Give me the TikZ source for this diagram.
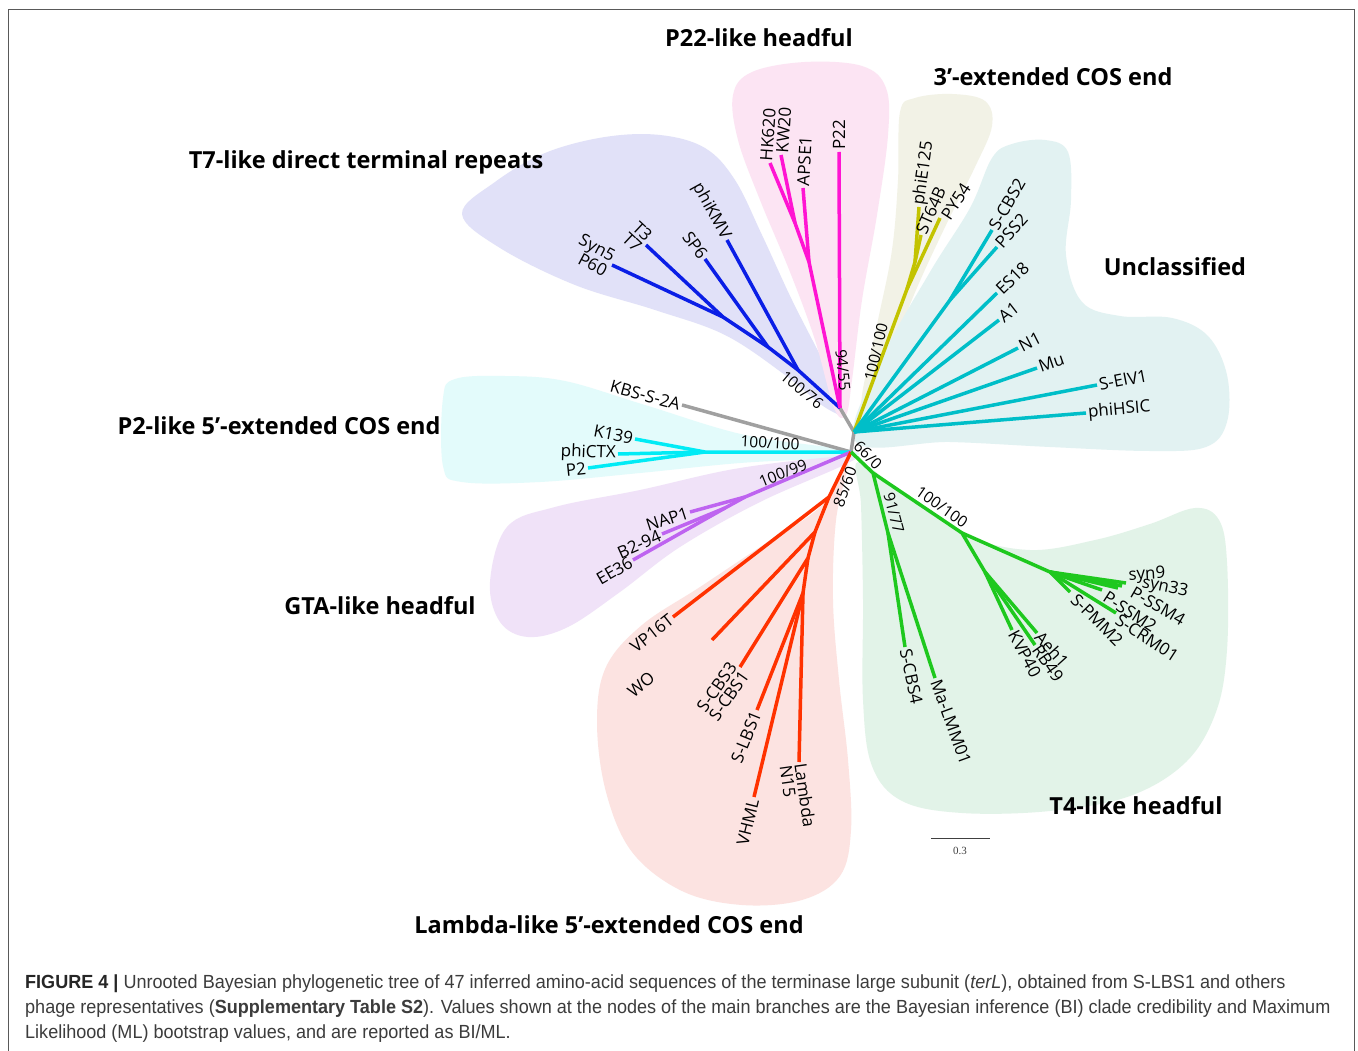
\documentclass[tikz,border=0pt]{standalone}
\usepackage{fontspec}
\setmainfont{Open Sans}
\newfontfamily\capfont[FakeStretch=0.95]{Liberation Sans}
\newfontfamily\scfont{Liberation Serif}
\definecolor{regT7}{RGB}{225,225,248}
\definecolor{regP22}{RGB}{252,228,243}
\definecolor{regCOS3}{RGB}{242,242,230}
\definecolor{regUnc}{RGB}{226,242,242}
\definecolor{regP2}{RGB}{227,251,251}
\definecolor{regGTA}{RGB}{240,226,248}
\definecolor{regLam}{RGB}{252,227,225}
\definecolor{regT4}{RGB}{226,243,232}
\definecolor{cBlue}{RGB}{10,30,230}
\definecolor{cMag}{RGB}{255,20,210}
\definecolor{cOlive}{RGB}{195,195,0}
\definecolor{cTeal}{RGB}{0,190,200}
\definecolor{cCyan}{RGB}{0,235,245}
\definecolor{cGray}{RGB}{160,160,160}
\definecolor{cPurp}{RGB}{190,100,240}
\definecolor{cRed}{RGB}{255,50,0}
\definecolor{cGreen}{RGB}{30,200,30}
\definecolor{capgray}{RGB}{60,60,60}
\begin{document}
\begin{tikzpicture}[x=1pt,y=-1pt,
  br/.style={line width=3.5pt, line join=round},
  leaf/.style={font=\fontsize{17}{15}\selectfont, inner sep=2pt},
  boot/.style={font=\fontsize{15.5}{15.5}\selectfont, inner sep=1pt},
  ttl/.style={font=\fontsize{23.5}{28}\selectfont\bfseries, anchor=base},
  capl/.style={font=\capfont\fontsize{19}{20}\selectfont, anchor=base west, inner sep=0pt, text=capgray},
]
\useasboundingbox (0,0) rectangle (1358,1051);
\clip (0,0) rectangle (1358,1051);
\fill[white] (0,0) rectangle (1358,1051);
\draw[line width=1.5pt, black!65] (8.5,9.5) rectangle (1354.5,1070);

% ---------- background regions ----------
\fill[regT7] plot[smooth cycle, tension=0.6] coordinates {(462,214) (495,182) (545,153) (605,137) (660,135) (705,148) (735,180) (762,235) (792,300) (825,365) (846,412) (826,408) (785,375) (725,335) (655,310) (575,285) (500,248)};
\fill[regP22] plot[smooth cycle, tension=0.6] coordinates {(733,95) (752,72) (805,62) (862,66) (886,88) (888,135) (877,215) (862,300) (852,380) (846,415) (834,408) (815,340) (790,272) (760,200) (738,140)};
\fill[regCOS3] plot[smooth cycle, tension=0.6] coordinates {(900,112) (915,98) (952,94) (985,101) (992,126) (975,167) (946,225) (916,290) (886,365) (866,412) (862,395) (878,320) (892,250) (898,180)};
\fill[regUnc] plot[smooth cycle, tension=0.6] coordinates {(856,442) (880,362) (930,272) (970,208) (992,158) (1012,144) (1045,140) (1068,152) (1071,200) (1066,255) (1082,302) (1120,316) (1172,318) (1208,336) (1227,375) (1227,422) (1206,447) (1150,451) (1050,447) (950,442)};
\fill[regP2] plot[smooth cycle, tension=0.6] coordinates {(443,398) (455,379) (505,376) (565,381) (645,405) (745,435) (848,450) (845,457) (740,463) (640,473) (540,482) (462,482) (443,466)};
\fill[regGTA] plot[smooth cycle, tension=0.6] coordinates {(490,582) (507,527) (555,507) (640,490) (740,468) (848,456) (846,464) (760,502) (680,547) (620,592) (568,627) (528,637) (500,622)};
\fill[regLam] plot[smooth cycle, tension=0.6] coordinates {(848,462) (820,507) (760,547) (700,587) (642,625) (606,667) (597,722) (606,792) (632,852) (682,891) (742,905) (802,900) (840,876) (851,830) (848,760) (839,680) (833,600) (836,520)};
\fill[regT4] plot[smooth cycle, tension=0.6] coordinates {(858,462) (905,495) (965,535) (1030,550) (1095,540) (1150,524) (1195,508) (1219,520) (1227,562) (1227,650) (1216,712) (1186,762) (1130,796) (1050,811) (962,813) (902,801) (872,766) (863,700) (863,600) (861,505)};

% ---------- internal nodes and leaves ----------
\coordinate (C0) at (851,452);
\coordinate (C1) at (854,432);
\coordinate (C2) at (840,408);
\coordinate (kbs) at (682,405);
% blue
\coordinate (b1) at (798,370); \coordinate (b2) at (768,347); \coordinate (b3) at (723,317);
\coordinate (lphikmv) at (727,240); \coordinate (lsp6) at (705,259);
\coordinate (lt3) at (646,245); \coordinate (lp60) at (612,265);
% magenta
\coordinate (m1) at (809,262); \coordinate (m2) at (795,223);
\coordinate (lhk) at (770,163); \coordinate (lkw) at (781,155);
\coordinate (lapse) at (803,188); \coordinate (lp22) at (839,152);
% olive
\coordinate (o1) at (907,289); \coordinate (o2) at (915,262);
\coordinate (lphie) at (919,207); \coordinate (lst) at (921,235); \coordinate (lpy) at (940,218);
% teal
\coordinate (t1) at (950,300);
\coordinate (lscbs2) at (992,230); \coordinate (lpss2) at (997,247);
\coordinate (les18) at (997,293); \coordinate (la1) at (999,320);
\coordinate (ln1) at (1018,348); \coordinate (lmu) at (1037,368);
\coordinate (lseiv) at (1097,385); \coordinate (lphih) at (1086,413);
% cyan
\coordinate (cy1) at (705,452);
\coordinate (lk139) at (635,439); \coordinate (lphictx) at (618,454); \coordinate (lp2) at (588,468);
% purple
\coordinate (p1) at (745,497); \coordinate (p2) at (725,508);
\coordinate (lnap) at (690,512); \coordinate (lb294) at (662,534); \coordinate (lee36) at (633,560);
% red
\coordinate (r1) at (829,497); \coordinate (r2) at (815,532); \coordinate (r3) at (808,558); \coordinate (r4) at (803,593);
\coordinate (lvp) at (673,617); \coordinate (lwo) at (712,640); \coordinate (lscbs) at (740,667);
\coordinate (lslbs) at (757,710); \coordinate (lvhml) at (754,797); \coordinate (llam) at (799,762);
% green
\coordinate (g1) at (873,473); \coordinate (g2) at (888,533); \coordinate (g3) at (962,533);
\coordinate (g4) at (985,572); \coordinate (g5) at (1050,572);
\coordinate (lscbs4) at (905,647); \coordinate (lma) at (935,678);
\coordinate (lkvp) at (1012,630); \coordinate (lrb) at (1035,645); \coordinate (laeh) at (1037,633);
\coordinate (lspmm) at (1070,592); \coordinate (lpssm2) at (1102,590); \coordinate (lscrm) at (1116,613);
\coordinate (lpssm4) at (1118,588); \coordinate (lsyn33) at (1122,586); \coordinate (lsyn9) at (1126,583);

% ---------- branches ----------
\draw[br, cGray] (C0) -- (C1) -- (C2);
\draw[br, cGray] (C0) -- (kbs);
\draw[br, cOlive] (C1) -- (o1) -- (o2) -- (lphie);
\draw[br, cOlive] (o2) -- (lst);
\draw[br, cOlive] (o1) -- (lpy);
\draw[br, cBlue] (C2) -- (b1) -- (lphikmv);
\draw[br, cBlue] (b1) -- (b2) -- (lsp6);
\draw[br, cBlue] (b2) -- (b3) -- (lt3);
\draw[br, cBlue] (b3) -- (lp60);
\draw[br, cMag] (C2) -- (m1) -- (m2) -- (lhk);
\draw[br, cMag] (m2) -- (lkw);
\draw[br, cMag] (m1) -- (lapse);
\draw[br, cMag] (C2) -- (lp22);
\draw[br, cTeal] (C1) -- (t1) -- (lscbs2);
\draw[br, cTeal] (t1) -- (lpss2);
\draw[br, cTeal] (C1) -- (les18);
\draw[br, cTeal] (C1) -- (la1);
\draw[br, cTeal] (C1) -- (ln1);
\draw[br, cTeal] (C1) -- (lmu);
\draw[br, cTeal] (C1) -- (lseiv);
\draw[br, cTeal] (C1) -- (lphih);
\draw[br, cCyan] (C0) -- (cy1) -- (lk139);
\draw[br, cCyan] (cy1) -- (lphictx);
\draw[br, cCyan] (cy1) -- (lp2);
\draw[br, cPurp] (C0) -- (p1) -- (lnap);
\draw[br, cPurp] (p1) -- (p2) -- (lb294);
\draw[br, cPurp] (p2) -- (lee36);
\draw[br, cRed] (C0) -- (r1) -- (lvp);
\draw[br, cRed] (r1) -- (r2) -- (lwo);
\draw[br, cRed] (r2) -- (r3) -- (lscbs);
\draw[br, cRed] (r3) -- (r4) -- (lslbs);
\draw[br, cRed] (r4) -- (lvhml);
\draw[br, cRed] (r4) -- (llam);
\draw[br, cGreen] (C0) -- (g1) -- (g2) -- (lscbs4);
\draw[br, cGreen] (g2) -- (lma);
\draw[br, cGreen] (g1) -- (g3) -- (g4) -- (lkvp);
\draw[br, cGreen] (g4) -- (lrb);
\draw[br, cGreen] (g4) -- (laeh);
\draw[br, cGreen] (g3) -- (g5) -- (lspmm);
\draw[br, cGreen] (g5) -- (lpssm2);
\draw[br, cGreen] (g5) -- (lscrm);
\draw[br, cGreen] (g5) -- (lpssm4);
\draw[br, cGreen] (g5) -- (lsyn33);
\draw[br, cGreen] (g5) -- (lsyn9);

% ---------- leaf labels ----------
\node[leaf, anchor=east, rotate=-15] (nkbs) at (kbs) {KBS-S-2A};
\node[leaf, anchor=east, rotate=-61] (nphikmv) at (lphikmv) {phiKMV};
\node[leaf, anchor=east, rotate=-54] (nsp6) at (lsp6) {SP6};
\node[leaf, anchor=east, rotate=-43, align=right] (nt3) at (lt3) {T3\\T7};
\node[leaf, anchor=east, rotate=-28, align=right] (np60) at (lp60) {Syn5\\P60};
\node[leaf, anchor=west, rotate=86] (nhk) at ([xshift=-4pt]lhk) {HK620};
\node[leaf, anchor=west, rotate=86] (nkw) at ([xshift=1pt]lkw) {KW20};
\node[leaf, anchor=west, rotate=87] (napse) at (lapse) {APSE1};
\node[leaf, anchor=west, rotate=90] (np22) at (lp22) {P22};
\node[leaf, anchor=west, rotate=82] (nphie) at (lphie) {phiE125};
\node[leaf, anchor=west, rotate=66] (nst) at ([xshift=-1pt]lst) {ST64B};
\node[leaf, anchor=west, rotate=57] (npy) at ([xshift=4pt,yshift=-2pt]lpy) {PY54};
\node[leaf, anchor=west, rotate=60] (nscbs2) at (lscbs2) {S-CBS2};
\node[leaf, anchor=west, rotate=48] (npss2) at (lpss2) {PSS2};
\node[leaf, anchor=west, rotate=44] (nes18) at (les18) {ES18};
\node[leaf, anchor=west, rotate=38] (na1) at (la1) {A1};
\node[leaf, anchor=west, rotate=27] (nn1) at (ln1) {N1};
\node[leaf, anchor=west, rotate=19] (nmu) at (lmu) {Mu};
\node[leaf, anchor=west, rotate=11] (nseiv) at (lseiv) {S-EIV1};
\node[leaf, anchor=west, rotate=5] (nphih) at (lphih) {phiHSIC};
\node[leaf, anchor=east, rotate=-11] (nk139) at (lk139) {K139};
\node[leaf, anchor=east, rotate=-2] (nphictx) at (lphictx) {phiCTX};
\node[leaf, anchor=east, rotate=6] (np2) at (lp2) {P2};
\node[leaf, anchor=east, rotate=18] (nnap) at (lnap) {NAP1};
\node[leaf, anchor=east, rotate=24] (nb294) at (lb294) {B2-94};
\node[leaf, anchor=east, rotate=30] (nee36) at (lee36) {EE36};
\node[leaf, anchor=east, rotate=38] (nvp) at (lvp) {VP16T};
\node[leaf, rotate=40] (nwo) at (641,685) {WO};
\node[leaf, anchor=east, rotate=55, align=right] (nscbs) at (lscbs) {S-CBS3\\S-CBS1};
\node[leaf, anchor=east, rotate=68] (nslbs) at (lslbs) {S-LBS1};
\node[leaf, anchor=east, rotate=76] (nvhml) at (lvhml) {VHML};
\node[leaf, anchor=west, rotate=-82, align=left] (nlam) at ([xshift=-6pt]llam) {Lambda\\N15};
\node[leaf, anchor=west, rotate=-78] (nscbs4) at (lscbs4) {S-CBS4};
\node[leaf, anchor=west, rotate=-70] (nma) at (lma) {Ma-LMM01};
\node[leaf, anchor=west, rotate=-62] (nkvp) at (lkvp) {KVP40};
\node[leaf, anchor=west, rotate=-55] (nrb) at (lrb) {RB49};
\node[leaf, anchor=west, rotate=-48] (naeh) at (laeh) {Aeh1};
\node[leaf, rotate=-45] (nspmm) at (1097,620) {S-PMM2};
\node[leaf, rotate=-33] (npssm2) at (1130,612) {P-SSM2};
\node[leaf, rotate=-33] (nscrm) at (1147,638) {S-CRM01};
\node[leaf, rotate=-30] (npssm4) at (1158,606) {P-SSM4};
\node[leaf, rotate=-12] (nsyn33) at (1165,588) {syn33};
\node[leaf, rotate=3] (nsyn9) at (1147,575) {syn9};

% ---------- support values ----------
\node[boot, rotate=-40] (s1) at (802,390) {100/76};
\node[boot, rotate=-84] (s2) at (843,370) {94/55};
\node[boot, rotate=77] (s3) at (876,352) {100/100};
\node[boot, rotate=-3] (s4) at (770,443) {100/100};
\node[boot, rotate=22] (s5) at (783,473) {100/99};
\node[boot, rotate=70] (s6) at (845,487) {85/60};
\node[boot, rotate=-45] (s7) at (868,455) {66/0};
\node[boot, rotate=-75] (s8) at (894,513) {91/77};
\node[boot, rotate=-35] (s9) at (942,507) {100/100};

% ---------- group titles ----------
\node[ttl] (tP22) at (759,47) {P22-like headful};
\node[ttl] (tCOS3) at (1053,86) {3’-extended COS end};
\node[ttl] (tT7) at (366,169) {T7-like direct terminal repeats};
\node[ttl] (tUnc) at (1175,276) {Unclassified};
\node[ttl] (tP2) at (279,434) {P2-like 5’-extended COS end};
\node[ttl] (tGTA) at (380,614) {GTA-like headful};
\node[ttl] (tT4) at (1136,814) {T4-like headful};
\node[ttl] (tLam) at (609,933) {Lambda-like 5’-extended COS end};

% ---------- scale bar ----------
\coordinate (sbl) at (931,838); \coordinate (sbr) at (990,838);
\draw[line width=1pt, black!75] (sbl) -- (sbr);
\node[font=\scfont\fontsize{11}{11}\selectfont, text=black!75, inner sep=0pt] (sbt) at (960,851) {0.3};

% ---------- caption ----------
\node[capl] (cap1) at (25,988) {{\bfseries\color{black!85}FIGURE 4 |} Unrooted Bayesian phylogenetic tree of 47 inferred amino-acid sequences of the terminase large subunit (\textit{terL}), obtained from S-LBS1 and others};
\node[capl] (cap2) at (25,1013) {phage representatives (\textbf{Supplementary Table S2}). Values shown at the nodes of the main branches are the Bayesian inference (BI) clade credibility and Maximum};
\node[capl] (cap3) at (25,1038) {Likelihood (ML) bootstrap values, and are reported as BI/ML.};
\end{tikzpicture}
\end{document}
